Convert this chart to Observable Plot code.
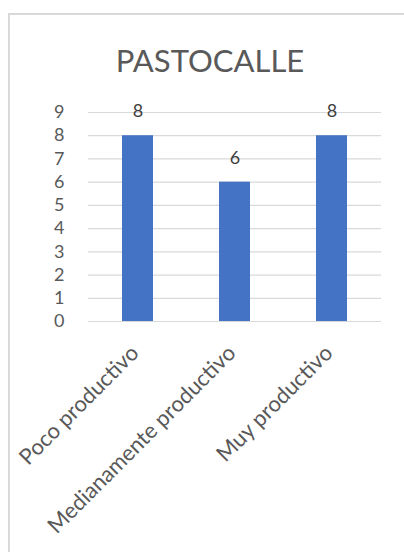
<!DOCTYPE html>
<html>
<head>
<meta charset="utf-8">
<script src="https://cdn.jsdelivr.net/npm/d3@7"></script>
<script src="https://cdn.jsdelivr.net/npm/@observablehq/plot@0.6"></script>
<style>
  html, body { margin: 0; padding: 0; background: #fff; overflow: hidden; }
  #wrap { position: relative; width: 404px; height: 552px; }
  #frame { position: absolute; left: 8px; top: 13px; width: 420px; height: 560px; border: 2px solid #d9d9d9; box-sizing: border-box; }
  #chart { position: absolute; left: 0; top: 0; }
</style>
</head>
<body>
<div id="wrap"><div id="frame"></div><div id="chart"></div></div>
<script>
const title = "PASTOCALLE";
const categories = ["Poco productivo", "Medianamente productivo", "Muy productivo"];
const values = [8, 6, 8];
const yTicks = [0, 1, 2, 3, 4, 5, 6, 7, 8, 9];

const data = categories.map((c, i) => ({category: c, value: values[i]}));
const font = "Lato, 'Open Sans', sans-serif";

const chart = Plot.plot({
  width: 404,
  height: 552,
  marginLeft: 88,
  marginRight: 23,
  marginTop: 112,
  marginBottom: 231,
  style: {fontFamily: font, background: "transparent", color: "#595959"},
  x: {domain: categories, paddingInner: 0.683, paddingOuter: 0.3415, label: null},
  y: {domain: [0, 9], ticks: yTicks, label: null},
  marks: [
    Plot.ruleY(yTicks, {stroke: "#d9d9d9", strokeWidth: 1.2}),
    Plot.barY(data, {x: "category", y: "value", fill: "#4472c4"}),
    Plot.text(data, {x: "category", y: "value", text: d => String(d.value), dy: -24, fontSize: 18, fill: "#404040"}),
    Plot.axisY({ticks: yTicks, tickSize: 0, tickPadding: 24, fontSize: 18, fill: "#595959", label: null}),
    Plot.axisX({tickSize: 0, tickPadding: 20, tickRotate: -45, fontSize: 22, fill: "#595959", label: null, dx: -3, dy: 8}),
    Plot.text([title], {frameAnchor: "top", dx: -25, dy: -63, fontSize: 31, fill: "#595959", text: d => d})
  ]
});
document.getElementById("chart").appendChild(chart);
</script>
</body>
</html>
